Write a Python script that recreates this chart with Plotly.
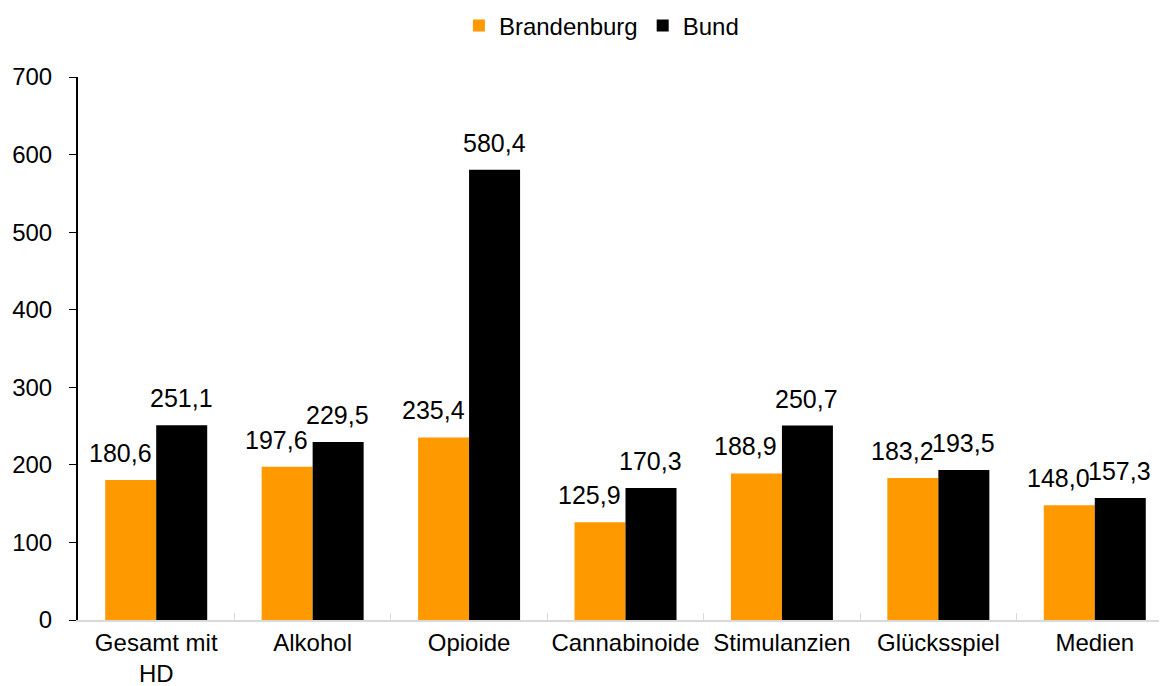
import plotly.graph_objects as go

categories = ["Gesamt mit<br>HD", "Alkohol", "Opioide", "Cannabinoide", "Stimulanzien", "Glücksspiel", "Medien"]
brandenburg = [180.6, 197.6, 235.4, 125.9, 188.9, 183.2, 148.0]
bund = [251.1, 229.5, 580.4, 170.3, 250.7, 193.5, 157.3]
y_ticks = [0, 100, 200, 300, 400, 500, 600, 700]

ORANGE = "#FF9900"
BLACK = "#000000"
FONT = "Liberation Sans, Arial, sans-serif"

fig = go.Figure()
fig.add_trace(go.Bar(name="Brandenburg", x=categories, y=brandenburg, marker_color=ORANGE, marker_line_width=0))
fig.add_trace(go.Bar(name="Bund", x=categories, y=bund, marker_color=BLACK, marker_line_width=0))

for c, v in zip(categories, brandenburg):
    fig.add_annotation(x=c, y=v, text=f"{v:.1f}".replace(".", ","), showarrow=False,
                       xshift=-36, yshift=11, yanchor="bottom",
                       font=dict(family=FONT, size=25, color="black"))
for c, v in zip(categories, bund):
    fig.add_annotation(x=c, y=v, text=f"{v:.1f}".replace(".", ","), showarrow=False,
                       xshift=25, yshift=11, yanchor="bottom",
                       font=dict(family=FONT, size=25, color="black"))

fig.update_layout(
    width=1167, height=686,
    margin=dict(l=70, r=2, t=69, b=74, autoexpand=False),
    paper_bgcolor="white", plot_bgcolor="white",
    barmode="group", bargap=0.348, bargroupgap=0,
    font=dict(family=FONT, size=24, color="black"),
    legend=dict(orientation="h", x=0.478, xanchor="center",
                yref="container", y=0.974, yanchor="middle",
                font=dict(size=24), itemwidth=30, tracegroupgap=0),
    showlegend=True,
)
fig.update_xaxes(
    showline=True, linecolor="#d9d9d9", linewidth=2,
    tickson="boundaries", ticks="inside", ticklen=7, tickcolor="#d9d9d9", tickwidth=1,
    showgrid=False, tickfont=dict(size=24), ticklabelstandoff=0,
    tickangle=0, automargin=False,
)
fig.update_yaxes(
    range=[0, 700], tickvals=y_ticks, showline=True, linecolor="black", linewidth=2,
    ticks="outside", ticklen=7, tickcolor="black", tickwidth=1,
    showgrid=False, zeroline=False, tickfont=dict(size=24), ticklabelstandoff=12,
    automargin=False,
)

fig.write_html("out.html")
